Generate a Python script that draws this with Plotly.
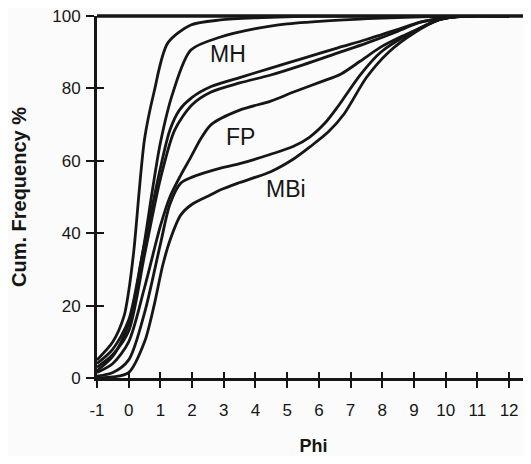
import plotly.graph_objects as go

# Phi axis positions and cumulative frequency (%) for each sample curve
phi_a = [-1, -0.5, -0.15, 0, 0.16, 0.5, 0.8, 1.23, 1.96, 2.9, 4, 6, 12]
cum_a = [5, 10, 17, 24, 35, 66, 79, 92.5, 97.5, 98.9, 99.5, 100, 100]

phi_b = [-1, -0.5, 0, 0.45, 0.75, 1.0, 1.39, 1.96, 2.9, 4, 5, 6.5, 8, 9.5, 10.5, 12]
cum_b = [2, 6, 15, 35, 52, 65, 78.7, 90.6, 94.2, 96.5, 97.8, 98.8, 99.4, 99.8, 100, 100]

phi_c = [-1, -0.5, 0, 0.45, 1.0, 1.3, 1.6, 2, 2.6, 3.5, 4.48, 5.5, 6.6, 7.5, 8.5, 9.2, 10, 10.7, 12]
cum_c = [4, 8, 16, 35, 58, 68.5, 74, 77.5, 80.5, 83, 85.6, 88.3, 91.2, 93.5, 96.3, 98.3, 99.5, 100, 100]

phi_d = [-1, -0.5, 0, 0.5, 1.0, 1.45, 2, 2.6, 3.5, 4.48, 5.5, 6.6, 7.5, 8.5, 9.2, 10, 10.7, 12]
cum_d = [3, 6.5, 13, 34, 55, 68.5, 75.5, 79, 81.5, 83.7, 86.5, 89.8, 92.5, 95.8, 98.3, 99.5, 100, 100]

phi_e = [-1, -0.5, 0, 0.5, 1.0, 1.3, 1.64, 1.96, 2.27, 2.6, 3.5, 4.48, 5.2, 6.06, 6.7, 7.3, 7.95, 8.6, 9.2, 9.8, 10.5, 12]
cum_e = [1.5, 4, 10, 25, 42, 50, 56, 61, 66, 70, 74, 76.5, 79, 81.8, 84, 87.5, 91.4, 94.3, 96.7, 99, 100, 100]

phi_f = [-1, -0.5, 0, 0.5, 1.0, 1.3, 1.64, 2, 2.9, 3.5, 4.48, 5.2, 5.7, 6.2, 6.6, 7.3, 7.95, 8.9, 9.8, 10.5, 12]
cum_f = [0.5, 1.5, 5, 18, 37, 48, 53.8, 55.5, 58, 59.2, 61.8, 64, 66.5, 70.5, 75, 83.7, 90, 95.3, 99, 100, 100]

phi_g = [-1, -0.5, 0, 0.5, 0.8, 1.07, 1.3, 1.64, 2, 2.59, 2.9, 3.5, 4.48, 5.2, 5.74, 6.3, 6.8, 7.5, 8.2, 9.0, 9.8, 10.5, 12]
cum_g = [0, 0.3, 1.5, 10, 20, 31, 38, 45, 48, 50.6, 52, 54, 57, 60.5, 64, 68, 73, 83, 90, 95.3, 99, 100, 100]

curves = [(phi_a, cum_a), (phi_b, cum_b), (phi_c, cum_c), (phi_d, cum_d),
          (phi_e, cum_e), (phi_f, cum_f), (phi_g, cum_g)]

x_ticks = list(range(-1, 13))
x_tick_text = [str(v) for v in x_ticks]   # plain hyphen for "-1"
y_ticks = [0, 20, 40, 60, 80, 100]
x_range = [-1, 12.66]
y_range = [0, 100]

labels = ["MH", "FP", "MBi"]
label_phi = [3.12, 3.53, 4.97]
label_cum = [89.5, 66.7, 52.2]

INK = "#161616"
FONT = "Liberation Sans, Arial, Helvetica, sans-serif"

fig = go.Figure()
for px_, cy in curves:
    fig.add_trace(go.Scatter(x=px_, y=cy, mode="lines",
                             line=dict(color=INK, width=2.8, shape="spline", smoothing=0.8),
                             showlegend=False, hoverinfo="skip"))

# invisible trace to anchor the overlay axes (used for inward tick marks)
fig.add_trace(go.Scatter(x=phi_g, y=cum_g, xaxis="x2", yaxis="y2", mode="lines",
                         line=dict(width=0), opacity=0, showlegend=False, hoverinfo="skip"))

for t, xv, yv in zip(labels, label_phi, label_cum):
    fig.add_annotation(x=xv, y=yv, text=t, showarrow=False,
                       font=dict(family=FONT, size=23, color=INK))

fig.update_layout(
    width=523, height=448,
    margin=dict(l=89, r=1, t=8, b=78, autoexpand=False),
    paper_bgcolor="#fafbfa", plot_bgcolor="#fafbfa",
    font=dict(family=FONT, color=INK),
    xaxis=dict(range=x_range, tickvals=x_ticks, ticktext=x_tick_text, ticks="outside",
               ticklen=7, tickwidth=2.2, automargin=False,
               tickcolor=INK, showline=True, linecolor=INK, linewidth=3, showgrid=False,
               zeroline=False, tickfont=dict(size=17, family=FONT, color=INK),
               ticklabelstandoff=8, ticklabeloverflow="allow",
               title=dict(text="<b>Phi</b>", font=dict(size=18, family=FONT, color=INK), standoff=33)),
    yaxis=dict(range=y_range, tickvals=y_ticks, ticks="outside", ticklen=8, tickwidth=2.2,
               automargin=False,
               tickcolor=INK, showline=True, linecolor=INK, linewidth=3, showgrid=False,
               zeroline=False, tickfont=dict(size=17, family=FONT, color=INK),
               ticklabelstandoff=2, ticklabeloverflow="allow",
               title=dict(text="<b>Cum. Frequency %</b>", font=dict(size=20, family=FONT, color=INK), standoff=21)),
    xaxis2=dict(range=x_range, tickvals=x_ticks, ticks="inside", ticklen=6, tickwidth=2.2,
                tickcolor=INK, showticklabels=False, overlaying="x", anchor="y2", automargin=False,
                showgrid=False, zeroline=False, showline=False, side="bottom"),
    yaxis2=dict(range=y_range, tickvals=y_ticks, ticks="inside", ticklen=7, tickwidth=2.2,
                tickcolor=INK, showticklabels=False, overlaying="y", anchor="x2", automargin=False,
                showgrid=False, zeroline=False, showline=False, side="left"),
)

# frame: thick top edge, faint right edge
fig.add_shape(type="line", xref="paper", yref="paper", x0=0, x1=1, y0=1, y1=1,
              line=dict(color=INK, width=3.5))
fig.add_shape(type="line", xref="paper", yref="paper", x0=1, x1=1, y0=0, y1=1,
              line=dict(color="#c8cac8", width=1))

fig.write_html("out.html")
